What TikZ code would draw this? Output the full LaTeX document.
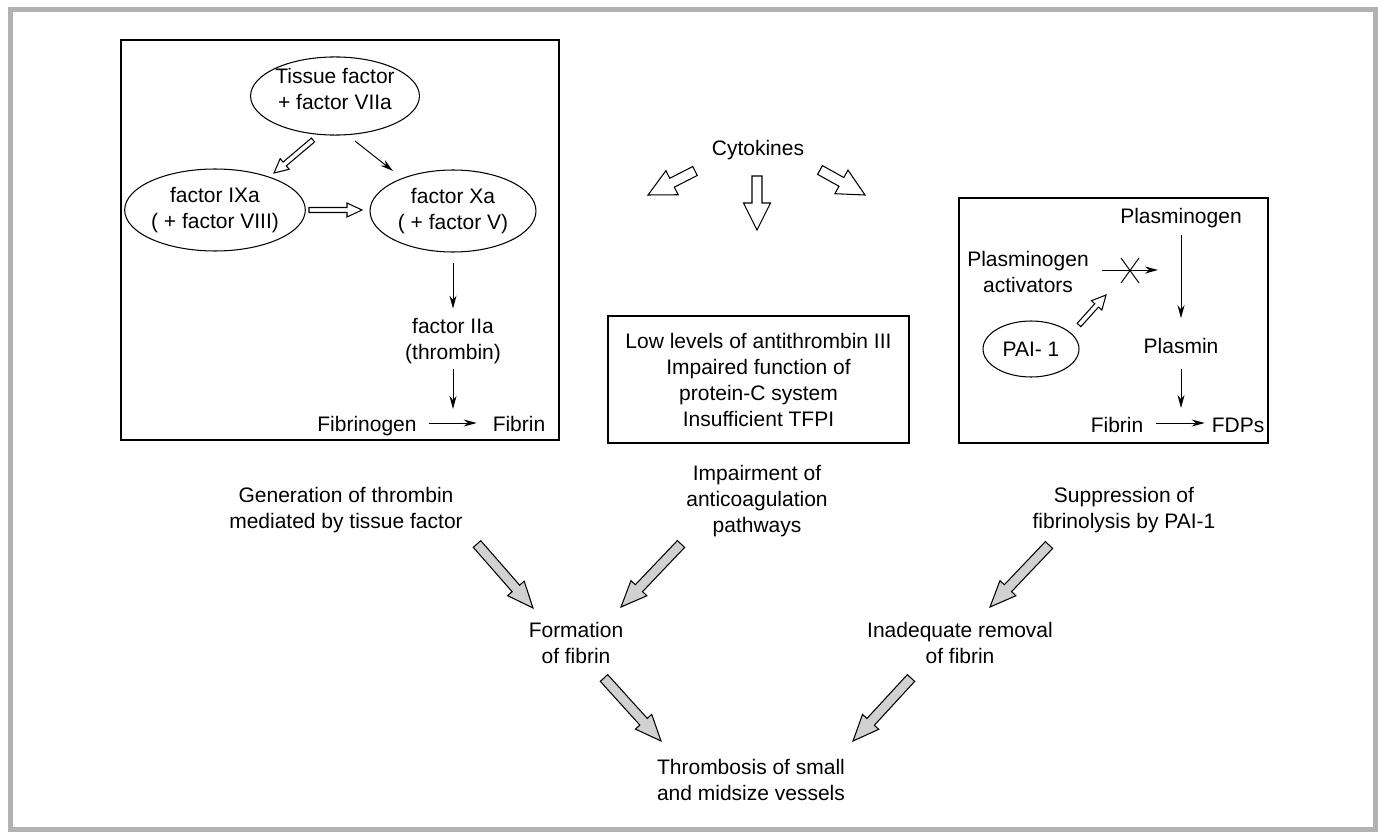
\documentclass[tikz,border=0pt]{standalone}
\usepackage{fontspec}
\setmainfont{Liberation Sans}
\usetikzlibrary{shapes,arrows.meta,positioning,calc}

% block arrow: [fill]{tail}{tip}{half shaft}{half head}{head length}
\newcommand{\fatarrow}[6][white]{%
  \coordinate (hb) at ($(#3)!#6!(#2)$);
  \filldraw[fill=#1,line width=0.6pt,line join=miter]
    ($(#2)!#4!90:(#3)$) -- ($(hb)!#4!90:(#3)$) -- ($(hb)!#5!90:(#3)$) -- (#3)
    -- ($(hb)!#5!-90:(#3)$) -- ($(hb)!#4!-90:(#3)$) -- ($(#2)!#4!-90:(#3)$) -- cycle;
}

\tikzset{
  oval/.style={ellipse, draw, line width=0.6pt, inner sep=0pt, align=center},
  lbl/.style={align=center, inner sep=1pt},
  boxline/.style={draw, line width=0.8pt},
  thinarr/.style={-{Stealth[length=0.26cm,width=0.14cm]}, line width=0.55pt}
}

\begin{document}
\begin{tikzpicture}[x=0.02cm, y=-0.02cm, every node/.style={font=\fontsize{11.95}{14.8}\selectfont}]
    \useasboundingbox (0,0) rectangle (1378,831);
    \draw[black!30, line width=0.1cm] (10.5,10) rectangle (1375.5,829.5);

    % coagulation box
    \draw[boxline] (121,40) rectangle (559,440);
    \node[oval, minimum width=3.28cm, minimum height=1.36cm, text depth=0.28cm] (tf) at (335,96) {Tissue factor\\+ factor VIIa};
    \node[oval, minimum width=3.32cm, minimum height=1.64cm] (ixa) at (215,210) {factor IXa\\( + factor VIII)};
    \node[oval, minimum width=3.32cm, minimum height=1.64cm] (xa) at (453,211) {factor Xa\\( + factor V)};
    \node[lbl] (iia) at (453,341.5) {factor IIa\\(thrombin)};
    \node[lbl, anchor=base] (fbg) at (367,431) {Fibrinogen};
    \node[lbl, anchor=base] (fbn) at (519,431) {Fibrin};
    \coordinate (tfout) at (313,140);
    \coordinate (ixain) at (274,173);
    \coordinate (ixaout) at (309,210);
    \coordinate (xain) at (362,210);
    \coordinate (tfout2) at (355,141);
    \coordinate (xain2) at (393,171);
    \coordinate (rxn) at (453,409);
    \fatarrow{tfout}{ixain}{0.05cm}{0.14cm}{0.28cm}
    \fatarrow{ixaout}{xain}{0.05cm}{0.14cm}{0.3cm}
    \draw[thinarr] (tfout2) -- (xain2);
    \draw[thinarr, shorten <=0.2cm, shorten >=0.16cm] (xa) -- (iia);
    \draw[thinarr, shorten <=0.06cm] (iia.south) -- (rxn);
    \draw[thinarr, shorten <=0.2cm, shorten >=0.28cm] ([yshift=0.16cm]fbg.base east) -- ([yshift=0.16cm]fbn.base west);

    % cytokines
    \node[lbl, anchor=base] (cyto) at (758,155.5) {Cytokines};
    \coordinate (ckl1) at (695,171);
    \coordinate (ckl2) at (648,195);
    \coordinate (ckm1) at (757,176);
    \coordinate (ckm2) at (757,230);
    \coordinate (ckr1) at (820,170);
    \coordinate (ckr2) at (865,195);
    \fatarrow{ckl1}{ckl2}{0.1cm}{0.27cm}{0.54cm}
    \fatarrow{ckm1}{ckm2}{0.1cm}{0.27cm}{0.54cm}
    \fatarrow{ckr1}{ckr2}{0.1cm}{0.27cm}{0.54cm}

    % anticoagulation box
    \node[boxline, lbl, minimum width=6.02cm, minimum height=2.54cm] (anti) at (758.5,379.5)
      {Low levels of antithrombin III\\Impaired function of\\protein-C system\\Insufficient TFPI};

    % fibrinolysis box
    \draw[boxline] (959,198) rectangle (1268,443);
    \node[lbl, anchor=base] (plg) at (1181,223.5) {Plasminogen};
    \node[lbl] (pa) at (1028,271.5) {Plasminogen\\activators};
    \node[oval, minimum width=1.92cm, minimum height=1.12cm] (pai) at (1031,349) {PAI- 1};
    \node[lbl, anchor=base] (pls) at (1181,353.5) {Plasmin};
    \node[lbl, anchor=base] (fbn2) at (1117,432) {Fibrin};
    \node[lbl, anchor=base] (fdp) at (1238,432) {FDPs};
    \coordinate (blk) at (1158,270);
    \coordinate (xmark) at (1130,270.5);
    \coordinate (paiout) at (1079,325);
    \coordinate (paiin) at (1106,295);
    \coordinate (lys) at (1181,408);
    \draw[thinarr, shorten <=0.22cm] (pa.east |- blk) -- (blk);
    \draw[line width=0.55pt] ([shift={(-9,-12.5)}]xmark) -- ([shift={(9,12.5)}]xmark);
    \draw[line width=0.55pt] ([shift={(9,-12.5)}]xmark) -- ([shift={(-9,12.5)}]xmark);
    \fatarrow{paiout}{paiin}{0.05cm}{0.14cm}{0.28cm}
    \draw[thinarr, shorten <=0.1cm, shorten >=0.36cm] (plg) -- (pls);
    \draw[thinarr, shorten <=0.26cm] (pls.south) -- (lys);
    \draw[thinarr, shorten <=0.22cm, shorten >=0.1cm] ([yshift=0.18cm]fbn2.base east) -- ([yshift=0.18cm]fdp.base west);

    % mechanisms
    \node[lbl] (gen) at (346,510) {Generation of thrombin\\mediated by tissue factor};
    \node[lbl] (imp) at (757,501.5) {Impairment of\\anticoagulation\\pathways};
    \node[lbl] (supp) at (1124,510) {Suppression of\\fibrinolysis by PAI-1};
    \node[lbl] (form) at (576,642.5) {Formation\\of fibrin};
    \node[lbl] (inad) at (960,642.5) {Inadequate removal\\of fibrin};
    \node[lbl] (thr) at (751,779.5) {Thrombosis of small\\and midsize vessels};
    \coordinate (g1a) at (477,544);
    \coordinate (g1b) at (533,608);
    \coordinate (g2a) at (681,544);
    \coordinate (g2b) at (621,607);
    \coordinate (g3a) at (1049,545);
    \coordinate (g3b) at (990,607);
    \coordinate (g4a) at (604,678);
    \coordinate (g4b) at (661,741);
    \coordinate (g5a) at (911,678);
    \coordinate (g5b) at (853,741);
    \foreach \s/\t in {g1a/g1b, g2a/g2b, g3a/g3b, g4a/g4b, g5a/g5b}
      {\fatarrow[black!18]{\s}{\t}{0.1cm}{0.22cm}{0.52cm}}
\end{tikzpicture}
\end{document}
